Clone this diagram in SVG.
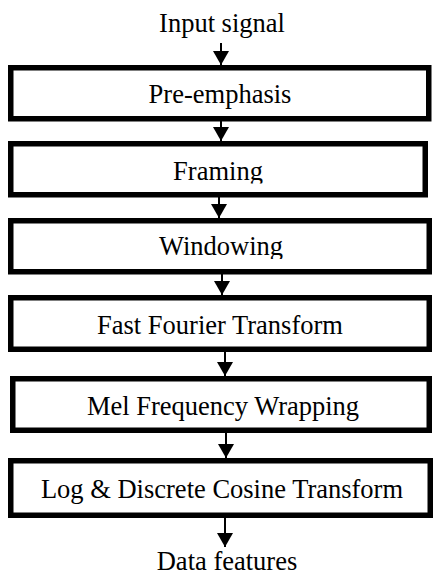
<svg xmlns="http://www.w3.org/2000/svg" width="433" height="576" viewBox="0 0 433 576">
  <style>
    .box { fill: #ffffff; stroke: #000000; stroke-width: 5.5; }
    .lbl { font-family: 'Liberation Serif', 'DejaVu Serif', serif; font-size: 26.5px; fill: #000000; text-anchor: middle; }
    .conn { stroke: #000000; stroke-width: 2; fill: none; marker-end: url(#arrow); }
  </style>
  <defs>
    <marker id="arrow" markerUnits="userSpaceOnUse" markerWidth="14" markerHeight="16" viewBox="0 0 14 16" refX="14" refY="8" orient="auto">
      <path d="M0,0 L14,8 L0,16 z" fill="#000000"/>
    </marker>
    <clipPath id="clipFraming"><rect x="0" y="140" width="433" height="43.5"/></clipPath>
    <clipPath id="clipWindowing"><rect x="0" y="215" width="433" height="44"/></clipPath>
  </defs>
  <rect width="433" height="576" fill="#ffffff"/>
  <g id="input-label">
    <text class="lbl" font-family="Liberation Serif, serif" x="222" y="32">Input signal</text>
  </g>
  <g id="node-preemphasis">
    <rect class="box" x="10.75" y="67.75" width="418" height="51"/>
    <text class="lbl" font-family="Liberation Serif, serif" x="220" y="103">Pre-emphasis</text>
  </g>
  <g id="node-framing">
    <rect class="box" x="10.75" y="143.75" width="414.5" height="51"/>
    <text class="lbl" font-family="Liberation Serif, serif" x="218" y="180" clip-path="url(#clipFraming)">Framing</text>
  </g>
  <g id="node-windowing">
    <rect class="box" x="10.75" y="220.75" width="418.5" height="51"/>
    <text class="lbl" font-family="Liberation Serif, serif" x="221" y="255" clip-path="url(#clipWindowing)">Windowing</text>
  </g>
  <g id="node-fft">
    <rect class="box" x="10.75" y="297.75" width="418.5" height="51.5"/>
    <text class="lbl" font-family="Liberation Serif, serif" x="220" y="334">Fast Fourier Transform</text>
  </g>
  <g id="node-mel">
    <rect class="box" x="12.75" y="378.75" width="416.5" height="51.5"/>
    <text class="lbl" font-family="Liberation Serif, serif" x="223" y="415">Mel Frequency Wrapping</text>
  </g>
  <g id="node-logdct">
    <rect class="box" x="10.75" y="460.75" width="419.5" height="54.5"/>
    <text class="lbl" font-family="Liberation Serif, serif" x="222" y="498">Log &amp; Discrete Cosine Transform</text>
  </g>
  <g id="output-label">
    <text class="lbl" font-family="Liberation Serif, serif" x="227" y="570">Data features</text>
  </g>
  <g id="connectors">
    <line class="conn" x1="221" y1="43" x2="221" y2="65"/>
    <line class="conn" x1="221" y1="121" x2="221" y2="141"/>
    <line class="conn" x1="219" y1="197" x2="219" y2="218"/>
    <line class="conn" x1="222" y1="274" x2="222" y2="295"/>
    <line class="conn" x1="225" y1="352" x2="225" y2="376"/>
    <line class="conn" x1="226" y1="433" x2="226" y2="458"/>
    <line class="conn" x1="225" y1="518" x2="225" y2="547"/>
  </g>
</svg>
